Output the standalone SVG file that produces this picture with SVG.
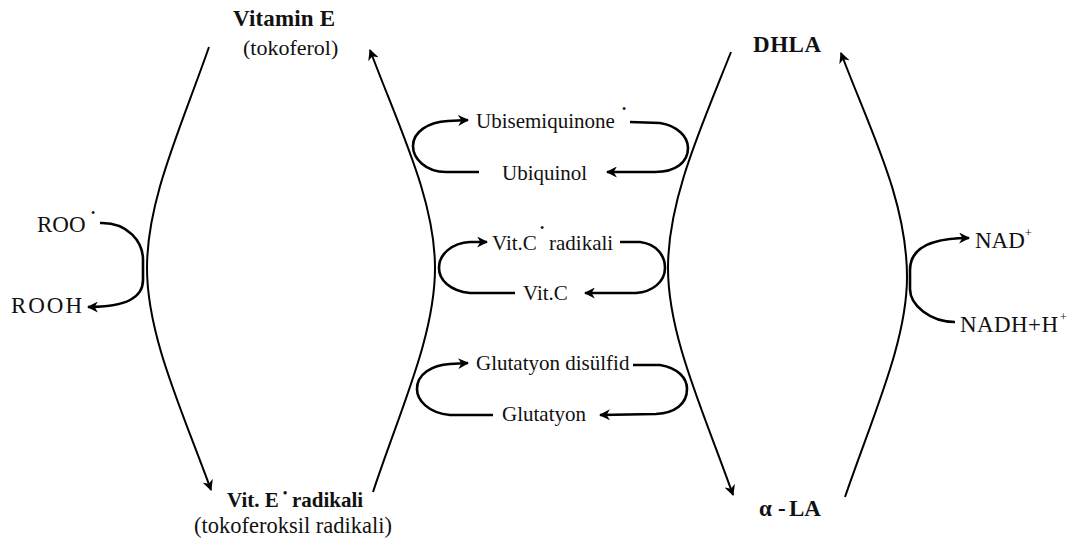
<svg xmlns="http://www.w3.org/2000/svg" width="1072" height="546" viewBox="0 0 1072 546">
<style>
text{font-family:"Liberation Serif","Times New Roman",serif;font-size:21px;fill:#111}
.b{font-weight:bold}
.s{font-size:22px}
.sup{font-size:12px}
.dot{font-size:12px}
.main{fill:none;stroke:#000;stroke-width:2}
.loop{fill:none;stroke:#000;stroke-width:2.6}
</style>
<defs>
<marker id="ah" viewBox="0 0 10 10" refX="9" refY="5" markerWidth="11" markerHeight="11" markerUnits="userSpaceOnUse" orient="auto">
<path d="M0,0 L10,5 L0,10 L3,5 z" fill="#000"/>
</marker>
</defs>
<rect width="1072" height="546" fill="#fff"/>
<g id="connectors">
<path class="main" d="M209,47 C180,130 147,200 147,268 C147,336 182,410 211,490" marker-end="url(#ah)"/>
<path class="main" d="M373,492 C400,410 435,336 435,268 C435,200 400,130 370,50" marker-end="url(#ah)"/>
<path class="main" d="M731,52 C700,130 668,200 668,268 C668,336 703,410 733,495" marker-end="url(#ah)"/>
<path class="main" d="M845,497 C875,410 907,340 907,277 C907,200 870,130 841,53" marker-end="url(#ah)"/>
<path class="loop" d="M100,223 C128,222 143,242 143,260 L143,280 C143,297 128,307 88,307" marker-end="url(#ah)"/>
<path class="loop" d="M955,322 C930,322 910,305 910,289 L910,270 C910,252 925,238 969,238" marker-end="url(#ah)"/>
<path class="loop" d="M479,172 L446,172 C425,172 413,158 413,146 C413,132 428,122 448,121 L468,120" marker-end="url(#ah)"/>
<path class="loop" d="M630,122 L660,123 C678,126 688,137 688,148 C688,162 676,172 655,172 L607,172" marker-end="url(#ah)"/>
<path class="loop" d="M515,293 L470,293 C450,291 439,280 439,268 C439,254 452,243 470,242 L487,242" marker-end="url(#ah)"/>
<path class="loop" d="M620,242 L640,242 C656,244 665,255 665,268 C665,282 652,292 636,293 L585,293" marker-end="url(#ah)"/>
<path class="loop" d="M493,415 L450,415 C428,413 417,400 417,389 C417,374 432,365 450,364 L468,363" marker-end="url(#ah)"/>
<path class="loop" d="M633,365 L660,365 C678,368 687,378 687,389 C687,404 675,413 656,414 L600,415" marker-end="url(#ah)"/>
</g>
<g id="vitE">
<text class="b" x="233" y="26" style="font-size:23px" textLength="102" lengthAdjust="spacing">Vitamin E</text>
<text class="s" x="243" y="55">(tokoferol)</text>
</g>
<g id="vitErad">
<text class="b"><tspan x="227" y="507">Vit. E</tspan><tspan class="dot" x="283" y="497">•</tspan><tspan x="292" y="507">radikali</tspan></text>
<text x="194" y="533" style="font-size:22.5px">(tokoferoksil radikali)</text>
</g>
<g id="roo">
<text x="37" y="232" style="font-size:23px"><tspan>ROO</tspan><tspan class="dot" x="91" y="217">•</tspan></text>
</g>
<g id="rooh">
<text x="11" y="313" style="font-size:23px" textLength="71" lengthAdjust="spacing">ROOH</text>
</g>
<g id="ubisemi">
<text><tspan x="476" y="128">Ubisemiquinone</tspan><tspan class="dot" x="622" y="113">•</tspan></text>
</g>
<g id="ubiquinol">
<text x="502" y="180">Ubiquinol</text>
</g>
<g id="vitCrad">
<text><tspan x="492" y="250">Vit.C</tspan><tspan class="dot" x="540" y="232">•</tspan><tspan x="549" y="250">radikali</tspan></text>
</g>
<g id="vitC">
<text x="523" y="300">Vit.C</text>
</g>
<g id="gssg">
<text x="476" y="370">Glutatyon disülfid</text>
</g>
<g id="gsh">
<text x="502" y="421">Glutatyon</text>
</g>
<g id="dhla">
<text class="b" x="753" y="52" style="font-size:23px" textLength="68" lengthAdjust="spacing">DHLA</text>
</g>
<g id="ala">
<text class="b" style="font-size:23px"><tspan x="759" y="516">α</tspan><tspan x="778" y="516">-</tspan><tspan x="789" y="516">LA</tspan></text>
</g>
<g id="nad">
<text style="font-size:23px"><tspan x="975" y="248">NAD</tspan><tspan class="sup" x="1025" y="237">+</tspan></text>
</g>
<g id="nadh">
<text style="font-size:23px"><tspan x="960" y="332" textLength="98" lengthAdjust="spacing">NADH+H</tspan><tspan class="sup" x="1060" y="321">+</tspan></text>
</g>
</svg>
